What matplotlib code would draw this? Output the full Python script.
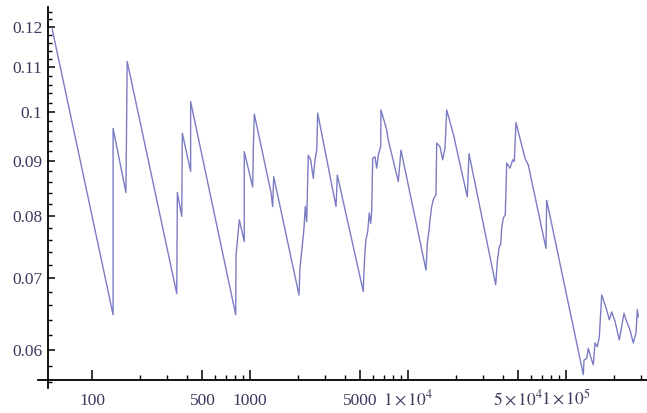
import numpy as np
import matplotlib
matplotlib.use("Agg")
import matplotlib.pyplot as plt
from matplotlib.ticker import FixedLocator, NullFormatter

# values (log-log sawtooth)
x_vals = [56, 136, 136, 164, 167, 344, 347, 370, 373, 421, 421,
          812, 816, 856, 920, 920, 1040, 1049, 1065, 1358, 1392, 1413,
          2042, 2072, 2124, 2155, 2197, 2239, 2285, 2339, 2423, 2516, 2579, 2644, 2682,
          3503, 3570, 5213, 5243, 5289, 5343, 5422, 5557, 5689, 5806, 5892, 5979,
          6182, 6338, 6486, 6718, 6747, 7333, 7505, 8682, 9030,
          13000, 13250, 13640, 13780, 14130, 14460, 15040, 15190, 15940, 16580,
          17150, 17580, 19550, 19840, 23730, 24330,
          35890, 36740, 37830, 38610, 39170, 40100, 41290, 42140, 44220, 45990,
          47070, 48250, 55040, 57750, 74710, 75480,
          128700, 130000, 135200, 138400, 143300, 148900, 152600, 157800, 162500,
          168300, 180900, 188000, 194600, 204200, 217500, 225200, 232900, 239800,
          254200, 266700, 277300, 282700, 286900]
y_vals = [0.1194, 0.0647, 0.0965, 0.0841, 0.1114, 0.0677, 0.0841, 0.0799, 0.0955, 0.0880, 0.1022,
          0.0647, 0.0735, 0.0793, 0.0757, 0.0918, 0.0851, 0.0921, 0.0995, 0.0841, 0.0816, 0.0870,
          0.0675, 0.0715, 0.0741, 0.0757, 0.0779, 0.0816, 0.0790, 0.0911, 0.0902, 0.0867, 0.0902, 0.0921, 0.0997,
          0.0816, 0.0873, 0.0680, 0.0700, 0.0720, 0.0741, 0.0760, 0.0773, 0.0805, 0.0787, 0.0807, 0.0905,
          0.0908, 0.0886, 0.0911, 0.0928, 0.1004, 0.0962, 0.0941, 0.0861, 0.0921,
          0.0712, 0.0754, 0.0779, 0.0793, 0.0816, 0.0828, 0.0837, 0.0935, 0.0928, 0.0902,
          0.0925, 0.1004, 0.0948, 0.0938, 0.0833, 0.0914,
          0.0690, 0.0725, 0.0749, 0.0752, 0.0779, 0.0796, 0.0802, 0.0896, 0.0886, 0.0902,
          0.0899, 0.0977, 0.0905, 0.0892, 0.0746, 0.0827,
          0.0569, 0.0587, 0.0589, 0.0602, 0.0591, 0.0581, 0.0609, 0.0604, 0.0617,
          0.0675, 0.0654, 0.0640, 0.0651, 0.0638, 0.0613, 0.0631, 0.0649, 0.0640,
          0.0626, 0.0609, 0.0622, 0.0654, 0.0644]

x_major = [100, 500, 1000, 5000, 10000, 50000, 100000]
x_major_labels = ["100", "500", "1000", "5000", r"$1\times10^{4}$", r"$5\times10^{4}$", r"$1\times10^{5}$"]
y_major = [0.06, 0.07, 0.08, 0.09, 0.1, 0.11, 0.12]
y_major_labels = ["0.06", "0.07", "0.08", "0.09", "0.1", "0.11", "0.12"]

plt.rcParams['font.family'] = ['Liberation Serif', 'DejaVu Serif']
plt.rcParams['mathtext.fontset'] = 'stix'

fig = plt.figure(figsize=(6.47, 4.13), dpi=100)
ax = fig.add_axes([0, 0, 1, 1])
ax.set_xscale('log')
ax.set_yscale('log')

ax.plot(x_vals, y_vals, color='#7c7cc4', lw=1.0)

ax.set_xlim(26.17, 325600)
ax.set_ylim(0.0524, 0.1271)

# Mathematica style crossing axes
for s in ['top', 'right']:
    ax.spines[s].set_visible(False)
ax.spines['left'].set_position(('data', 52.7))
ax.spines['bottom'].set_position(('data', 0.0563))
ax.spines['left'].set_bounds(0.0553, 0.1252)
ax.spines['bottom'].set_bounds(45.5, 325600)
ax.spines['left'].set_linewidth(1.3)
ax.spines['bottom'].set_linewidth(1.3)

x_minor = [m * 10 ** d for d in range(2, 6) for m in range(2, 10)
           if m != 5 and m * 10 ** d < 325600]
y_minor = [round(0.056 + 0.002 * i, 3) for i in range(36)]
y_minor = [v for v in y_minor if v not in y_major and v < 0.125]

ax.xaxis.set_major_locator(FixedLocator(x_major))
ax.xaxis.set_minor_locator(FixedLocator(x_minor))
ax.yaxis.set_major_locator(FixedLocator(y_major))
ax.yaxis.set_minor_locator(FixedLocator(y_minor))
ax.set_xticklabels(x_major_labels)
ax.set_yticklabels(y_major_labels)
ax.xaxis.set_minor_formatter(NullFormatter())
ax.yaxis.set_minor_formatter(NullFormatter())

lab_col = '#3a3a5c'
ax.tick_params(axis='x', which='major', direction='in', length=7, width=1.1,
               pad=18, labelsize=12.5, labelcolor=lab_col)
ax.tick_params(axis='x', which='minor', direction='in', length=3.5, width=1.0)
ax.tick_params(axis='y', which='major', direction='in', length=5, width=1.1,
               pad=4, labelsize=12.5, labelcolor=lab_col)
ax.tick_params(axis='y', which='minor', direction='in', length=3, width=1.0)
for lab in ax.get_xticklabels():
    lab.set_verticalalignment('baseline')

fig.savefig("out.png", dpi=100)
